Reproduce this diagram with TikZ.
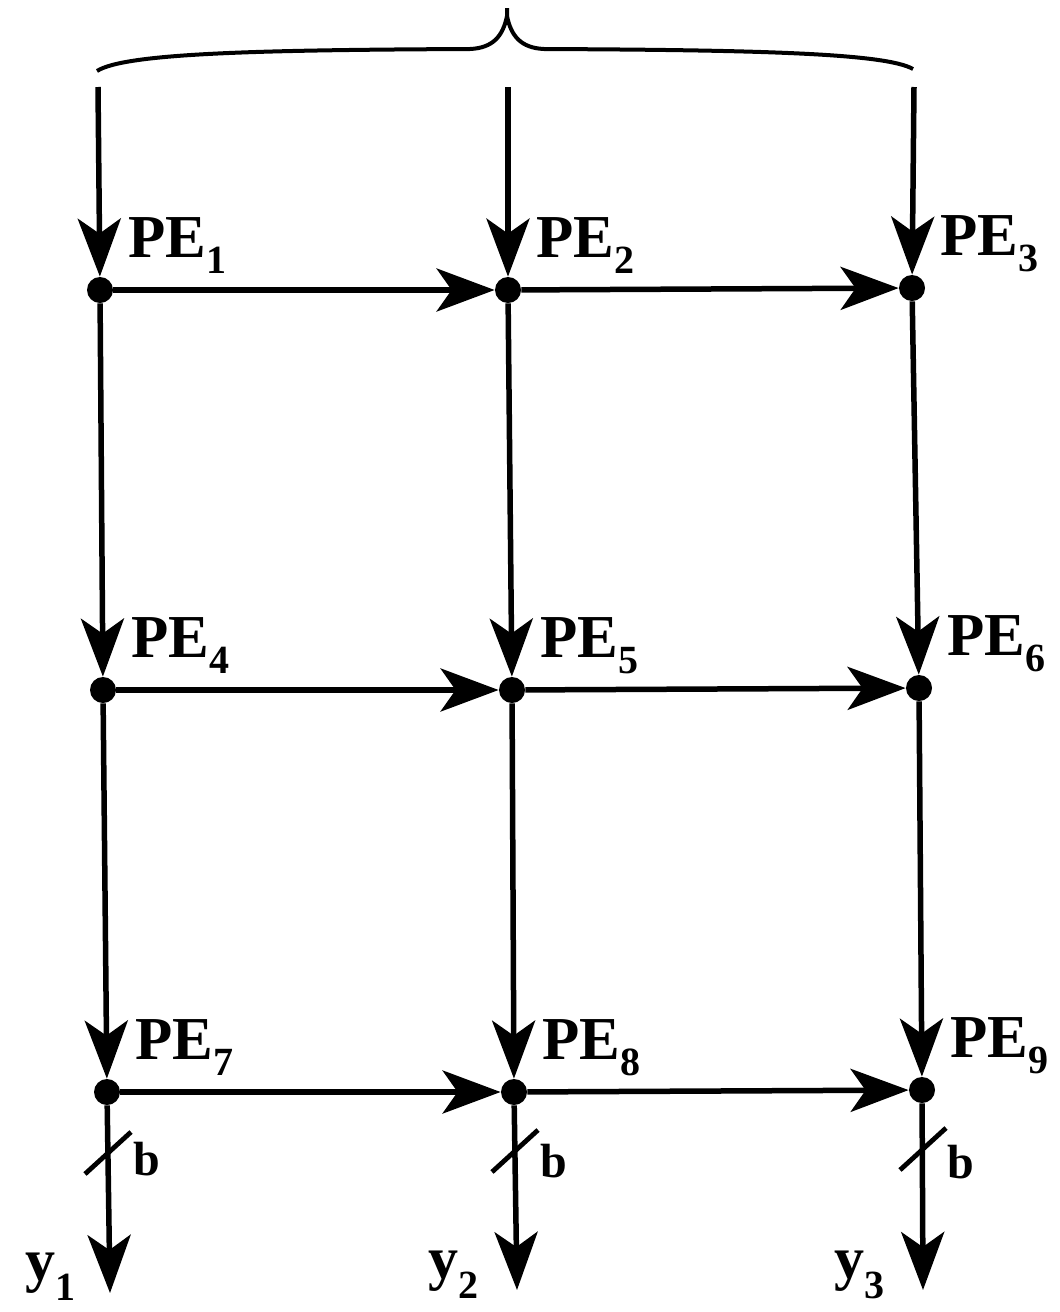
\documentclass[tikz,border=0pt]{standalone}
\usepackage{fontspec}
\setmainfont{Liberation Serif}
\usetikzlibrary{arrows.meta}
\newcommand\PEl[1]{{\fontsize{30.5}{30}\selectfont PE}\raisebox{-8pt}{\fontsize{20}{20}\selectfont #1}}
\newcommand\Yl[1]{{\fontsize{30}{30}\selectfont y}\raisebox{-10pt}{\fontsize{20}{20}\selectfont #1}}
\begin{document}
\begin{tikzpicture}[x=0.5pt,y=-0.5pt,
  pe/.style={circle, fill=black, inner sep=0pt, minimum size=13pt},
  flow/.style={line width=2.75pt, -{Stealth[length=29pt, width=21.5pt, inset=7.5pt]}},
  lbl/.style={anchor=base west, inner sep=0pt, font=\bfseries},
  slash/.style={line width=2.4pt},
  brace/.style={line width=2pt}]
\useasboundingbox (0,0) rectangle (1060,1312);
% processing elements
\node[pe] (n1) at (100,290) {};
\node[pe] (n2) at (508,290) {};
\node[pe] (n3) at (912,288) {};
\node[pe] (n4) at (103,690) {};
\node[pe] (n5) at (512,690) {};
\node[pe] (n6) at (919,688) {};
\node[pe] (n7) at (107,1092) {};
\node[pe] (n8) at (514,1092) {};
\node[pe] (n9) at (922,1090) {};
% inputs and outputs
\coordinate (t1) at (98,87);
\coordinate (t2) at (508,87);
\coordinate (t3) at (914,87);
\coordinate (e1) at (110,1293);
\coordinate (e2) at (517,1290);
\coordinate (e3) at (923,1290);
% labels
\node[lbl] (l1) at (128,257) {\PEl{1}};
\node[lbl] (l2) at (536,257) {\PEl{2}};
\node[lbl] (l3) at (940,255) {\PEl{3}};
\node[lbl] (l4) at (131,657) {\PEl{4}};
\node[lbl] (l5) at (540,657) {\PEl{5}};
\node[lbl] (l6) at (947,655) {\PEl{6}};
\node[lbl] (l7) at (135,1059) {\PEl{7}};
\node[lbl] (l8) at (542,1059) {\PEl{8}};
\node[lbl] (l9) at (950,1057) {\PEl{9}};
% brace
\draw[brace] (97,71) .. controls (125,53) and (260,50) .. (470,49)
  .. controls (493,48) and (503,36) .. (507,16) -- (507,8);
\draw[brace] (913,69) .. controls (885,53) and (754,50) .. (544,49)
  .. controls (521,48) and (511,36) .. (507,16);
% vertical connectors
\draw[flow] (t1) -- (n1);
\draw[flow] (t2) -- (n2);
\draw[flow] (t3) -- (n3);
\draw[flow] (n1) -- (n4);
\draw[flow] (n2) -- (n5);
\draw[flow] (n3) -- (n6);
\draw[flow] (n4) -- (n7);
\draw[flow] (n5) -- (n8);
\draw[flow] (n6) -- (n9);
\draw[flow] (n7) -- (e1);
\draw[flow] (n8) -- (e2);
\draw[flow] (n9) -- (e3);
% horizontal connectors
\draw[flow] (n1) -- (n2);
\draw[flow] (n2) -- (n3);
\draw[flow] (n4) -- (n5);
\draw[flow] (n5) -- (n6);
\draw[flow] (n7) -- (n8);
\draw[flow] (n8) -- (n9);
% bus-width slashes
\draw[slash] (85,1174) -- (131,1132);
\draw[slash] (492,1172) -- (538,1130);
\draw[slash] (900,1170) -- (946,1128);
\node[lbl] (b1) at (133,1175) {\fontsize{24}{24}\selectfont b};
\node[lbl] (b2) at (540,1177) {\fontsize{24}{24}\selectfont b};
\node[lbl] (b3) at (947,1178) {\fontsize{24}{24}\selectfont b};
% output labels
\node[lbl] (y1) at (25,1280) {\Yl{1}};
\node[lbl] (y2) at (428,1278) {\Yl{2}};
\node[lbl] (y3) at (834,1278) {\Yl{3}};
\end{tikzpicture}
\end{document}
